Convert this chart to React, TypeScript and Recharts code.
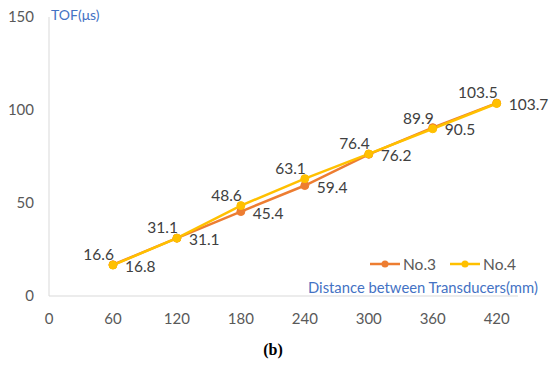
import { CartesianGrid, LabelList, Line, LineChart, XAxis, YAxis } from 'recharts';

const distances = [60, 120, 180, 240, 300, 360, 420];
const no3 = [16.8, 31.1, 45.4, 59.4, 76.2, 90.5, 103.7];
const no4 = [16.6, 31.1, 48.6, 63.1, 76.4, 89.9, 103.5];
const xTicks = [0, 60, 120, 180, 240, 300, 360, 420];
const yTicks = [0, 50, 100, 150];

const data = distances.map((d, i) => ({ d, no3: no3[i], no4: no4[i] }));

const FONT = 'Lato, "Open Sans", sans-serif';
const ORANGE = '#ED7D31';
const YELLOW = '#FFC000';

const LabelRight = (props: any) => {
  const { x, y, value } = props;
  return (
    <text x={x + 12} y={y + 7} fill="#404040" fontSize={15.5} fontFamily={FONT} textAnchor="start">
      {value}
    </text>
  );
};

const LabelAbove = (props: any) => {
  const { x, y, value } = props;
  return (
    <text x={x + 1} y={y - 5} fill="#404040" fontSize={15.5} fontFamily={FONT} textAnchor="end">
      {value}
    </text>
  );
};

function LegendItem({ color, text }: { color: string; text: string }) {
  return (
    <div style={{ display: 'flex', alignItems: 'center', marginRight: 14 }}>
      <svg width={30} height={10}>
        <line x1={0} y1={5} x2={30} y2={5} stroke={color} strokeWidth={2.5} />
        <circle cx={15} cy={5} r={3.5} fill={color} />
      </svg>
      <span style={{ marginLeft: 3, color: '#595959', fontSize: 15.5 }}>{text}</span>
    </div>
  );
}

export default function App() {
  return (
    <div style={{ position: 'fixed', left: 0, top: 0, width: 550, height: 366, background: '#fff', fontFamily: FONT }}>
      <LineChart width={550} height={366} data={data} margin={{ top: 17, right: 32, left: 0, bottom: 40 }}>
        <CartesianGrid horizontal={false} vertical={false} />
        <XAxis
          dataKey="d"
          type="number"
          domain={[0, 440]}
          ticks={xTicks}
          height={30}
          tickLine={false}
          tickSize={0}
          tickMargin={17}
          axisLine={{ stroke: '#D9D9D9' }}
          tick={{ fill: '#595959', fontSize: 15, fontFamily: FONT }}
          interval={0}
        />
        <YAxis
          width={49}
          domain={[0, 150]}
          ticks={yTicks}
          tickLine={false}
          tickSize={0}
          tickMargin={15}
          axisLine={{ stroke: '#D9D9D9' }}
          tick={{ fill: '#595959', fontSize: 15, fontFamily: FONT }}
          interval={0}
        />
        <Line
          dataKey="no3"
          stroke={ORANGE}
          strokeWidth={2.5}
          dot={{ r: 4, fill: ORANGE, stroke: ORANGE, strokeWidth: 1 }}
          isAnimationActive={false}
        >
          <LabelList dataKey="no3" content={LabelRight} />
        </Line>
        <Line
          dataKey="no4"
          stroke={YELLOW}
          strokeWidth={2.5}
          dot={{ r: 4, fill: YELLOW, stroke: YELLOW, strokeWidth: 1 }}
          isAnimationActive={false}
        >
          <LabelList dataKey="no4" content={LabelAbove} />
        </Line>
      </LineChart>
      <div style={{ position: 'absolute', left: 51, top: 6, color: '#4472C4', fontSize: 14 }}>TOF(μs)</div>
      <div style={{ position: 'absolute', left: 308, top: 278, color: '#4472C4', fontSize: 14.8 }}>
        Distance between Transducers(mm)
      </div>
      <div style={{ position: 'absolute', left: 370, top: 255, display: 'flex' }}>
        <LegendItem color={ORANGE} text="No.3" />
        <LegendItem color={YELLOW} text="No.4" />
      </div>
      <div
        style={{
          position: 'absolute',
          left: 0,
          width: 546,
          top: 341,
          textAlign: 'center',
          fontFamily: '"Liberation Serif", serif',
          fontWeight: 'bold',
          fontSize: 16,
          color: '#000',
        }}
      >
        (b)
      </div>
    </div>
  );
}
